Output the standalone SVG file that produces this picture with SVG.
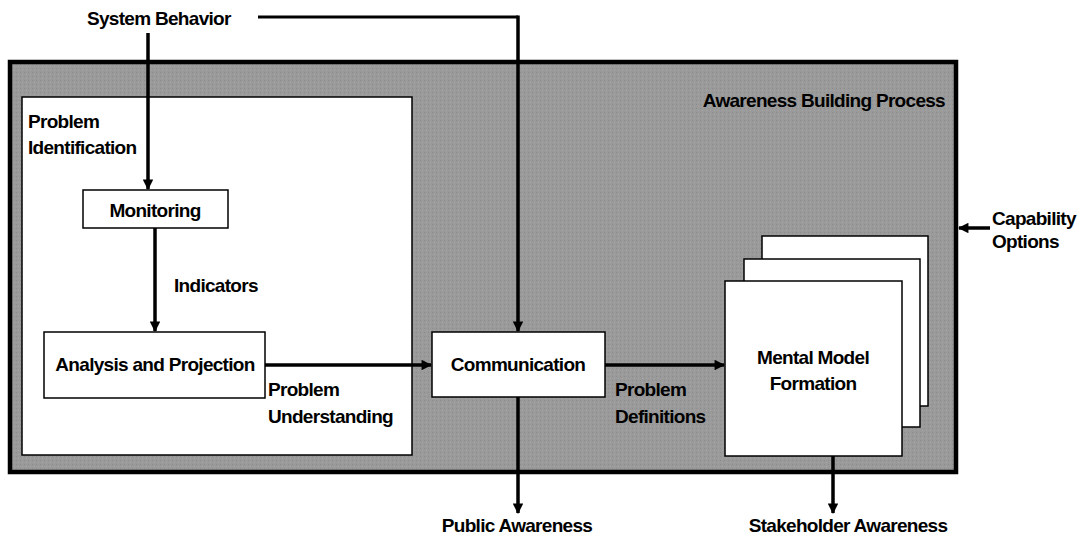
<svg xmlns="http://www.w3.org/2000/svg" width="1088" height="538" viewBox="0 0 1088 538">
  <defs>
    <marker id="arrow" viewBox="0 0 10 10" refX="9" refY="5" markerWidth="3.2" markerHeight="3" markerUnits="strokeWidth" orient="auto">
      <path d="M0,0 L10,5 L0,10 z" fill="#000"/>
    </marker>
    <pattern id="grain" width="4" height="4" patternUnits="userSpaceOnUse">
      <rect width="4" height="4" fill="#9a9a9a"/>
      <rect x="0" y="0" width="1" height="1" fill="#8c8c8c"/>
      <rect x="2" y="2" width="1" height="1" fill="#a6a6a6"/>
    </pattern>
  </defs>
  <style>
    text { font-family: "Liberation Sans", Arial, sans-serif; font-weight: bold; font-size: 19px; fill: #000; letter-spacing: -0.7px; }
    .mid { text-anchor: middle; }
    .end { text-anchor: end; }
    .box { fill: #fff; stroke: #000; stroke-width: 1.5; }
    .conn { fill: none; stroke: #000; stroke-width: 3.5; }
    .plain { fill: none; stroke: #000; stroke-width: 3; }
  </style>

  <rect width="1088" height="538" fill="#fff"/>

  <!-- Awareness building process container -->
  <g id="awareness-process">
    <rect x="10" y="62" width="946" height="410" fill="url(#grain)" stroke="#000" stroke-width="4.5"/>
    <text class="end" x="945" y="107">Awareness Building Process</text>
  </g>

  <!-- Problem identification sub-process -->
  <g id="problem-identification">
    <rect x="22" y="97" width="390" height="358" fill="#fff" stroke="#000" stroke-width="1.5"/>
    <text x="28" y="128">Problem</text>
    <text x="28" y="154">Identification</text>
  </g>

  <g id="monitoring">
    <rect class="box" x="83" y="190" width="145" height="38"/>
    <text class="mid" x="155" y="217">Monitoring</text>
  </g>

  <g id="analysis">
    <rect class="box" x="44" y="332" width="221" height="66"/>
    <text class="mid" x="155" y="371">Analysis and Projection</text>
  </g>

  <g id="communication">
    <rect class="box" x="432" y="332" width="173" height="65"/>
    <text class="mid" x="518" y="371">Communication</text>
  </g>

  <!-- Stacked mental model sheets -->
  <g id="mental-model">
    <rect class="box" x="762" y="236" width="166" height="170"/>
    <rect class="box" x="744" y="259" width="176" height="168"/>
    <rect class="box" x="725" y="281" width="177" height="175"/>
    <text class="mid" x="813" y="364">Mental Model</text>
    <text class="mid" x="813" y="390">Formation</text>
  </g>

  <g id="connectors">
    <path class="conn" d="M148,33 V189" marker-end="url(#arrow)"/>
    <path class="plain" d="M258,17 H518"/>
    <path class="conn" d="M518,15.5 V331" marker-end="url(#arrow)"/>
    <path class="conn" d="M155,228 V331" marker-end="url(#arrow)"/>
    <path class="conn" d="M265,365 H431" marker-end="url(#arrow)"/>
    <path class="conn" d="M605,365 H724" marker-end="url(#arrow)"/>
    <path class="conn" d="M518,397 V513" marker-end="url(#arrow)"/>
    <path class="conn" d="M833,456 V513" marker-end="url(#arrow)"/>
    <path class="conn" d="M990,228 H959" marker-end="url(#arrow)"/>
  </g>

  <!-- Flow labels -->
  <g id="labels">
    <text x="87" y="25">System Behavior</text>
    <text x="174" y="292">Indicators</text>
    <text x="268" y="396">Problem</text>
    <text x="268" y="423">Understanding</text>
    <text x="615" y="396">Problem</text>
    <text x="615" y="423">Definitions</text>
    <text x="992" y="225">Capability</text>
    <text x="992" y="248">Options</text>
    <text class="mid" x="517" y="532">Public Awareness</text>
    <text class="mid" x="848" y="532">Stakeholder Awareness</text>
  </g>
</svg>
